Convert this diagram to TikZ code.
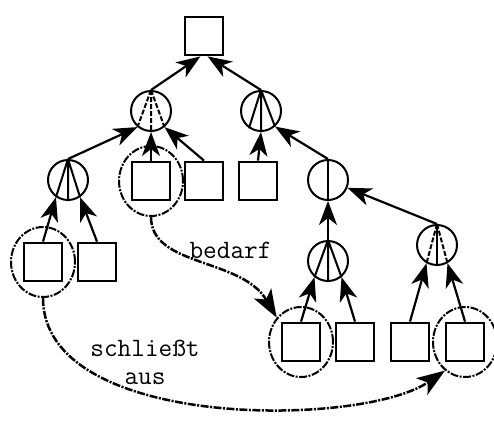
\documentclass[tikz,border=0pt]{standalone}
\usepackage{fontspec}
\usetikzlibrary{arrows.meta,shapes.geometric}
\tikzset{
  box/.style={draw, rectangle, minimum size=38pt, inner sep=0pt, line width=2.8pt},
  gate/.style={draw, circle, minimum size=40pt, inner sep=0pt, line width=2pt},
  hl/.style={draw, ellipse, minimum width=64pt, minimum height=70pt, inner sep=0pt, line width=2pt, dash pattern=on 8pt off 1.5pt on 2pt off 1.5pt},
  arr/.style={line width=2.2pt, -{Stealth[length=24pt,width=18pt,inset=7pt]}},
  fan/.style={line width=2pt},
  dfan/.style={line width=2pt, dash pattern=on 5pt off 2pt},
  link/.style={line width=2.5pt, dash pattern=on 8pt off 1.5pt on 2pt off 1.5pt, -{Stealth[length=28pt,width=20pt,inset=7pt]}},
  lbl/.style={font=\ttfamily\fontsize{26.5}{28}\selectfont, inner sep=0pt}
}
\begin{document}
\begin{tikzpicture}[x=1pt,y=-1pt]
\useasboundingbox (0,0) rectangle (494,423);
% boxes
\node[box] (top) at (204,36) {};
\node[box] (b1) at (151,181) {};
\node[box] (b2) at (204,181) {};
\node[box] (b3) at (258,181) {};
\node[box] (c1) at (43,262) {};
\node[box] (c2) at (97,262) {};
\node[box] (d1) at (301,342) {};
\node[box] (d2) at (355,342) {};
\node[box] (d3) at (410,342) {};
\node[box] (d4) at (465,342) {};
% gates
\node[gate] (A) at (151,111) {};
\node[gate] (B) at (261,111) {};
\node[gate] (C) at (68,180) {};
\node[gate] (D) at (328,180) {};
\node[gate] (E) at (328,261) {};
\node[gate] (F) at (437,245) {};
% highlights
\node[hl] (hb1) at (151,181) {};
\node[hl] (hc1) at (43,262) {};
\node[hl] (hd1) at (301,342) {};
\node[hl] (hd4) at (465,342) {};
% fans
\draw[dfan] (A.north) -- (A.-130) (A.north) -- (A.south) (A.north) -- (A.-50);
\draw[fan] (B.north) -- (B.-125) (B.north) -- (B.south) (B.north) -- (B.-48);
\draw[fan] (C.north) -- (C.-125) (C.north) -- (C.south) (C.north) -- (C.-55);
\draw[fan] (D.north) -- (D.south);
\draw[fan] (E.north) -- (E.-130) (E.north) -- (E.south) (E.north) -- (E.-50);
\draw[dfan] (F.north) -- (F.-120) (F.north) -- (F.-60);
\draw[fan] (F.north) -- (F.south);
% connectors
\draw[arr] (A.north) -- (top.-100);
\draw[arr] (B.north) -- (top.-80);
\draw[arr] (C.north) -- (A.-130);
\draw[arr] (b1.north) -- (A.south);
\draw[arr] (b2.north) -- (A.-50);
\draw[arr] (b3.north) -- (B.south);
\draw[arr] (D.north) -- (B.-48);
\draw[arr] (c1.north) -- (C.-125);
\draw[arr] (c2.north) -- (C.-55);
\draw[arr] (E.north) -- (D.south);
\draw[arr] (F.north) -- (D);
\draw[arr] (d1.north) -- (E.-130);
\draw[arr] (d2.north) -- (E.-50);
\draw[arr] (d3.north) -- (F.-120);
\draw[arr] (d4.north) -- (F.-60);
% links
\draw[link] (hb1.south) .. controls +(0,50) and +(-35,-60) .. (hd1.135);
\draw[link] (hc1.south) .. controls +(0,133) and +(-83,57) .. (hd4.-125);
\node[lbl, anchor=base] (t1) at (230.5,258) {bedarf};
\node[lbl, align=center] (t2) at (145,362) {schließt\\aus};
\end{tikzpicture}
\end{document}
